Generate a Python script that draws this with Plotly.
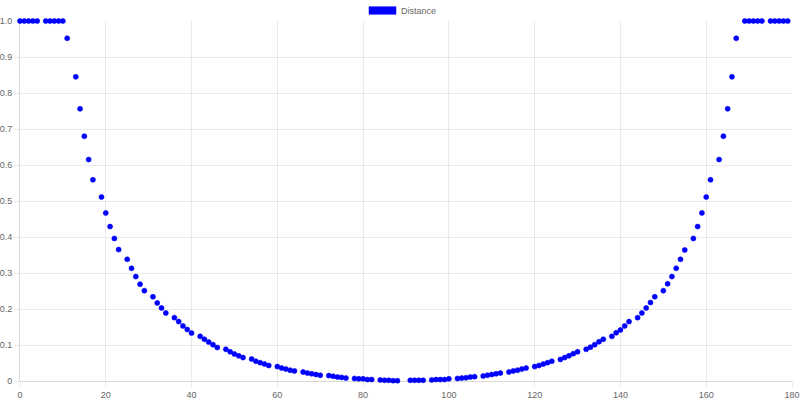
import plotly.graph_objects as go

# Data
angle = [0, 1, 2, 3, 4, 6, 7, 8, 9, 10, 11, 13, 14, 15, 16, 17, 19, 20, 21, 22, 23,
         25, 26, 27, 28, 29, 31, 32, 33, 34, 36, 37, 38, 39, 40, 42, 43, 44, 45, 46,
         48, 49, 50, 51, 52, 54, 55, 56, 57, 58, 60, 61, 62, 63, 64, 66, 67, 68, 69, 70,
         72, 73, 74, 75, 76, 78, 79, 80, 81, 82, 84, 85, 86, 87, 88, 91, 92, 93, 94,
         96, 97, 98, 99, 100, 102, 103, 104, 105, 106, 108, 109, 110, 111, 112,
         114, 115, 116, 117, 118, 120, 121, 122, 123, 124, 126, 127, 128, 129, 130,
         132, 133, 134, 135, 136, 138, 139, 140, 141, 142, 144, 145, 146, 147, 148,
         150, 151, 152, 153, 154, 155, 157, 158, 159, 160, 161, 163, 164, 165, 166, 167,
         169, 170, 171, 172, 173, 175, 176, 177, 178, 179]
distance = [1.0, 1.0, 1.0, 1.0, 1.0, 1.0, 1.0, 1.0, 1.0, 1.0, 0.952, 0.845, 0.756, 0.680, 0.615, 0.559,
            0.511, 0.467, 0.429, 0.396, 0.365,
            0.338, 0.313, 0.290, 0.269, 0.251, 0.234, 0.217, 0.203, 0.189, 0.176, 0.165, 0.153, 0.143, 0.133,
            0.124, 0.116, 0.108, 0.101, 0.093,
            0.088, 0.081, 0.075, 0.070, 0.065, 0.061, 0.055, 0.051, 0.047, 0.043, 0.040, 0.036, 0.033, 0.030, 0.028,
            0.025, 0.022, 0.020, 0.018, 0.016,
            0.015, 0.013, 0.011, 0.010, 0.008, 0.007, 0.006, 0.006, 0.004, 0.004, 0.003, 0.002, 0.002, 0.001, 0.001,
            0.002, 0.002, 0.002, 0.002,
            0.003, 0.004, 0.004, 0.004, 0.006, 0.007, 0.008, 0.009, 0.011, 0.012, 0.014, 0.016, 0.018, 0.020, 0.022,
            0.025, 0.028, 0.030, 0.033, 0.036, 0.040, 0.043, 0.047, 0.051, 0.055, 0.060, 0.065, 0.070, 0.076, 0.081,
            0.088, 0.094, 0.101, 0.109, 0.116, 0.124, 0.134, 0.142, 0.153, 0.165, 0.176, 0.189, 0.203, 0.218, 0.234,
            0.251, 0.270, 0.290, 0.313, 0.338, 0.364, 0.396, 0.429, 0.467, 0.511, 0.559, 0.615, 0.680, 0.756, 0.845, 0.952,
            1.0, 1.0, 1.0, 1.0, 1.0, 1.0, 1.0, 1.0, 1.0, 1.0]

x_ticks = [0, 20, 40, 60, 80, 100, 120, 140, 160, 180]
y_ticks = [0, 0.1, 0.2, 0.3, 0.4, 0.5, 0.6, 0.7, 0.8, 0.9, 1.0]
y_tick_labels = ["0", "0.1", "0.2", "0.3", "0.4", "0.5", "0.6", "0.7", "0.8", "0.9", "1.0"]
series_name = "Distance"

FONT = "Liberation Sans, Arial, Helvetica, sans-serif"
GRID = "rgba(0,0,0,0.08)"
TXT = "#666666"

fig = go.Figure()
fig.add_trace(go.Scatter(
    x=angle, y=distance, mode="markers", name=series_name,
    marker=dict(color="#0000ff", size=5, line=dict(width=0.6, color="#0000ff")),
    cliponaxis=False, showlegend=False,
))

# margins in pixels
L, R, T, B = 20, 8, 21, 19
W, H = 800, 400
pw, ph = W - L - R, H - T - B


def px_x(p):
    return (p - L) / pw


def px_y(p):
    return (H - B - p) / ph


fig.add_shape(type="rect", xref="paper", yref="paper",
              x0=px_x(369), x1=px_x(396), y0=px_y(14.3), y1=px_y(6.7),
              fillcolor="#0000ff", line=dict(color="#0000ff", width=0.5))
fig.add_annotation(text=series_name, xref="paper", yref="paper",
                   x=px_x(398.5), y=px_y(10.5), xanchor="left", yanchor="middle",
                   showarrow=False, font=dict(family=FONT, size=9, color=TXT))

axis_common = dict(
    showgrid=True, gridcolor=GRID, gridwidth=1,
    zeroline=False, automargin=False,
    showline=True, linecolor="rgba(0,0,0,0.15)", linewidth=1,
    ticks="outside", ticklen=5, tickcolor=GRID, tickwidth=1,
    tickfont=dict(family=FONT, size=9, color=TXT),
)

fig.update_layout(
    width=W, height=H,
    margin=dict(l=L, r=R, t=T, b=B, pad=0),
    paper_bgcolor="white", plot_bgcolor="white",
    xaxis=dict(range=[0, 180], tickvals=x_ticks, **axis_common),
    yaxis=dict(range=[0, 1], tickvals=y_ticks, ticktext=y_tick_labels, **axis_common),
    showlegend=False,
    font=dict(family=FONT, size=9, color=TXT),
)

fig.write_html("out.html")
